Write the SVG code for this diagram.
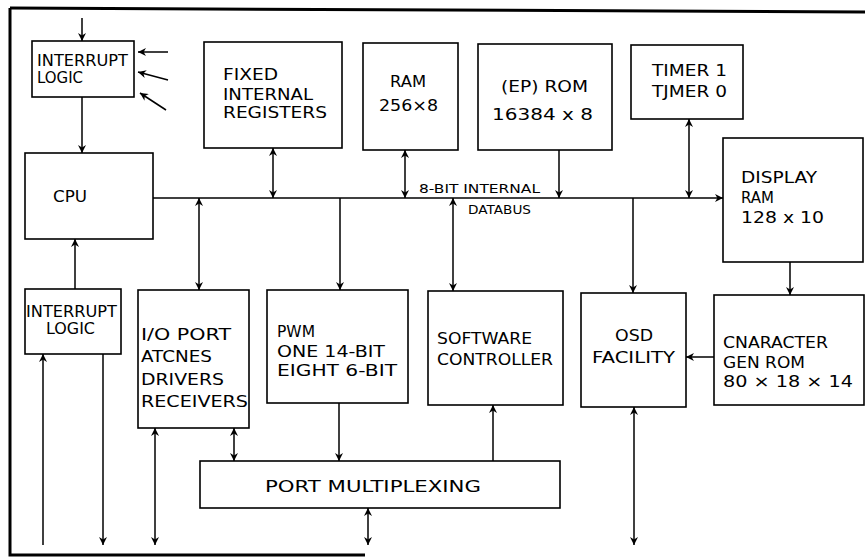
<svg xmlns="http://www.w3.org/2000/svg" width="865" height="557" viewBox="0 0 865 557">
<style>
.box{fill:#fff;stroke:#000;stroke-width:1.6}
.t{font-family:"DejaVu Sans","Liberation Sans",sans-serif;font-size:15px;fill:#000}
.s{font-size:12px}
.c{fill:none;stroke:#000;stroke-width:1.5}
.e{marker-end:url(#ah)}
.b{marker-start:url(#ah);marker-end:url(#ah)}
.frame{fill:none;stroke:#000;stroke-width:3}
</style>
<defs>
<marker id="ah" viewBox="0 0 10 10" refX="10" refY="5" markerWidth="9" markerHeight="8" markerUnits="userSpaceOnUse" orient="auto-start-reverse">
<path d="M0,0 L10,5 L0,10 L3,5 Z" fill="#000"/>
</marker>
</defs>
<rect width="865" height="557" fill="#fff"/>
<g id="frame">
<path class="frame" d="M10,8 L865,12"/>
<path class="frame" d="M10,8 L10,555 L365,555"/>
</g>
<g id="interrupt-top">
<rect class="box" x="32" y="41" width="102" height="56"/>
<text class="t" x="37" y="66" textLength="91" lengthAdjust="spacingAndGlyphs">INTERRUPT</text>
<text class="t" x="37" y="83" textLength="46" lengthAdjust="spacingAndGlyphs">LOGIC</text>
</g>
<g id="cpu">
<rect class="box" x="25" y="153" width="128" height="86"/>
<text class="t" x="53" y="202" textLength="34" lengthAdjust="spacingAndGlyphs">CPU</text>
</g>
<g id="fixed-registers">
<rect class="box" x="204" y="42" width="138" height="106"/>
<text class="t" x="223" y="80" textLength="55" lengthAdjust="spacingAndGlyphs">FIXED</text>
<text class="t" x="223" y="100" textLength="90" lengthAdjust="spacingAndGlyphs">INTERNAL</text>
<text class="t" x="223" y="118" textLength="104" lengthAdjust="spacingAndGlyphs">REGISTERS</text>
</g>
<g id="ram">
<rect class="box" x="363" y="43" width="95" height="107"/>
<text class="t" x="390" y="87" textLength="36" lengthAdjust="spacingAndGlyphs">RAM</text>
<text class="t" x="379" y="111" textLength="59" lengthAdjust="spacingAndGlyphs">256×8</text>
</g>
<g id="rom">
<rect class="box" x="478" y="44" width="134" height="106"/>
<text class="t" x="501" y="92" textLength="87" lengthAdjust="spacingAndGlyphs">(EP) ROM</text>
<text class="t" x="492" y="120" textLength="101" lengthAdjust="spacingAndGlyphs">16384 x 8</text>
</g>
<g id="timer">
<rect class="box" x="631" y="45" width="112" height="74"/>
<text class="t" x="652" y="76" textLength="75" lengthAdjust="spacingAndGlyphs">TIMER 1</text>
<text class="t" x="652" y="97" textLength="75" lengthAdjust="spacingAndGlyphs">TJMER 0</text>
</g>
<g id="display-ram">
<rect class="box" x="723" y="138" width="140" height="124"/>
<text class="t" x="741" y="183" textLength="76" lengthAdjust="spacingAndGlyphs">DISPLAY</text>
<text class="t" x="741" y="203" textLength="33" lengthAdjust="spacingAndGlyphs">RAM</text>
<text class="t" x="741" y="223" textLength="83" lengthAdjust="spacingAndGlyphs">128 x 10</text>
</g>
<g id="interrupt-bottom">
<rect class="box" x="25" y="289" width="96" height="65"/>
<text class="t" x="26" y="317" textLength="91" lengthAdjust="spacingAndGlyphs">INTERRUPT</text>
<text class="t" x="46" y="334" textLength="49" lengthAdjust="spacingAndGlyphs">LOGIC</text>
</g>
<g id="io-port">
<rect class="box" x="138" y="290" width="111" height="138"/>
<text class="t" x="141" y="340" textLength="90" lengthAdjust="spacingAndGlyphs">I/O PORT</text>
<text class="t" x="141" y="362" textLength="71" lengthAdjust="spacingAndGlyphs">ATCNES</text>
<text class="t" x="141" y="385" textLength="83" lengthAdjust="spacingAndGlyphs">DRIVERS</text>
<text class="t" x="141" y="407" textLength="107" lengthAdjust="spacingAndGlyphs">RECEIVERS</text>
</g>
<g id="pwm">
<rect class="box" x="267" y="290" width="141" height="113"/>
<text class="t" x="277" y="337" textLength="38" lengthAdjust="spacingAndGlyphs">PWM</text>
<text class="t" x="277" y="357" textLength="108" lengthAdjust="spacingAndGlyphs">ONE 14-BIT</text>
<text class="t" x="277" y="376" textLength="120" lengthAdjust="spacingAndGlyphs">EIGHT 6-BIT</text>
</g>
<g id="software-controller">
<rect class="box" x="428" y="291" width="135" height="114"/>
<text class="t" x="437" y="344" textLength="95" lengthAdjust="spacingAndGlyphs">SOFTWARE</text>
<text class="t" x="437" y="365" textLength="116" lengthAdjust="spacingAndGlyphs">CONTROLLER</text>
</g>
<g id="osd">
<rect class="box" x="581" y="293" width="105" height="114"/>
<text class="t" x="615" y="341" textLength="38" lengthAdjust="spacingAndGlyphs">OSD</text>
<text class="t" x="592" y="363" textLength="83" lengthAdjust="spacingAndGlyphs">FACILITY</text>
</g>
<g id="char-gen">
<rect class="box" x="714" y="295" width="150" height="110"/>
<text class="t" x="723" y="348" textLength="105" lengthAdjust="spacingAndGlyphs">CNARACTER</text>
<text class="t" x="723" y="368" textLength="82" lengthAdjust="spacingAndGlyphs">GEN ROM</text>
<text class="t" x="723" y="387" textLength="130" lengthAdjust="spacingAndGlyphs">80 × 18 × 14</text>
</g>
<g id="port-mux">
<rect class="box" x="200" y="461" width="360" height="47"/>
<text class="t" x="265" y="492" textLength="216" lengthAdjust="spacingAndGlyphs">PORT MULTIPLEXING</text>
</g>
<g id="bus-label">
<text class="t s" x="419" y="193" textLength="121" lengthAdjust="spacingAndGlyphs">8-BIT INTERNAL</text>
<text class="t s" x="468" y="214" textLength="63" lengthAdjust="spacingAndGlyphs">DATABUS</text>
</g>
<g id="connectors">
<path class="c e" d="M82,18 L82,41"/>
<path class="c e" d="M168,52 L138,52"/>
<path class="c e" d="M168,80 L138,72"/>
<path class="c e" d="M166,110 L140,93"/>
<path class="c e" d="M82,97 L82,153"/>
<path class="c e" d="M153,198 L723,198"/>
<path class="c b" d="M273,148 L273,198"/>
<path class="c b" d="M405,150 L405,198"/>
<path class="c e" d="M559,150 L559,198"/>
<path class="c b" d="M689,119 L689,198"/>
<path class="c e" d="M790,262 L790,295"/>
<path class="c e" d="M714,357 L686,357"/>
<path class="c e" d="M633,198 L633,293"/>
<path class="c b" d="M634,407 L634,545"/>
<path class="c e" d="M75,289 L75,239"/>
<path class="c e" d="M43,545 L43,354"/>
<path class="c e" d="M103,354 L103,545"/>
<path class="c b" d="M199,198 L199,290"/>
<path class="c b" d="M155,428 L155,545"/>
<path class="c b" d="M234,428 L234,461"/>
<path class="c e" d="M340,198 L340,290"/>
<path class="c e" d="M339,403 L339,461"/>
<path class="c b" d="M453,198 L453,291"/>
<path class="c e" d="M493,461 L493,405"/>
<path class="c b" d="M368,508 L368,545"/>
</g>
</svg>
